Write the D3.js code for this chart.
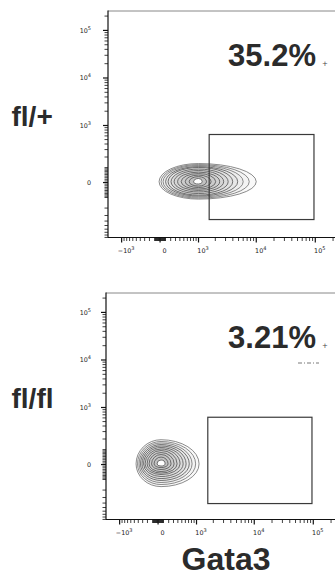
<!DOCTYPE html>
<html>
<head>
<meta charset="utf-8">
<script src="https://cdn.jsdelivr.net/npm/d3@7"></script>
<style>
  body { margin: 0; background: #fff; }
  svg { display: block; }
</style>
</head>
<body>
<div id="chart"></div>
<script>
// Panel text
const rowLabels = ["fl/+", "fl/fl"];
const percentLabels = ["35.2%", "3.21%"];
const xAxisTitle = "Gata3";

// Axis ticks (biexponential display)
const xMajorTicks = [-1000, 0, 1000, 10000, 100000];
const xTickBase = ["\u221210", "0", "10", "10", "10"];
const xTickExp = ["3", "", "3", "4", "5"];
const yMajorTicks = [0, 1000, 10000, 100000];
const yTickBase = ["0", "10", "10", "10"];
const yTickExp = ["", "3", "4", "5"];

// Gate rectangles [low, high]
const gateX = [[1560, 95000], [1600, 95000]];
const gateY = [[-370, 643], [-410, 620]];

// Population contours: center and extents of each contour ring
const popCenterX = [1000, 55];
const popCenterY = [5, 4];
const ringLeft1 = [-18, 18, 55, 102, 149, 207, 270, 347, 432, 538, 655, 806];
const ringRight1 = [9990, 7600, 6000, 4840, 3980, 3330, 2790, 2380, 2030, 1690, 1400, 1170];
const ringTop1 = [134, 125, 117, 108, 101, 89, 78, 67, 57, 47, 37, 25];
const ringBottom1 = [-113, -105, -97, -89, -82, -71, -60, -50, -41, -31, -22, -9];
const ringLeft2 = [-455, -418, -382, -348, -314, -281, -249, -208, -169, -121, -74, -18];
const ringRight2 = [1116, 963, 823, 724, 623, 537, 455, 382, 314, 249, 188, 130];
const ringTop2 = [192, 173, 158, 143, 130, 117, 105, 93, 78, 64, 47, 28];
const ringBottom2 = [-163, -143, -125, -108, -93, -78, -64, -54, -44, -31, -19, -9];

// Layout
const W = 335, H = 581;
const panelLeft = [108, 106];
const panelTop = [10.5, 292.5];
const plotW = 232, plotH = 227;
const xMin = -1760, xMax = 262144, xWidth = 470;
const yMin = -903, yMax = 262144, yWidth = 127;

const svg = d3.select("#chart").append("svg")
    .attr("width", W)
    .attr("height", H);

// biexponential-like transform, then linear scale
const tx = v => Math.asinh(v / xWidth);
const ty = v => Math.asinh(v / yWidth);
const xLin = d3.scaleLinear().domain([tx(xMin), tx(xMax)]).range([0, plotW]);
const yLin = d3.scaleLinear().domain([ty(yMin), ty(yMax)]).range([plotH, 0]);
const x = v => xLin(tx(v));
const y = v => yLin(ty(v));

// minor ticks: n * 10^k in both directions
function minorTicks(lo, hi) {
    const out = [];
    [1, 2, 3, 4, 5].forEach(k => {
        d3.range(1, 10).forEach(n => {
            const v = n * Math.pow(10, k);
            if (n === 1 && k >= 3) return;
            if (v <= hi) out.push(v);
            if (-v >= lo && !(n === 1 && k === 3)) out.push(-v);
        });
    });
    return out;
}

const rings = [
    { left: ringLeft1, right: ringRight1, top: ringTop1, bottom: ringBottom1 },
    { left: ringLeft2, right: ringRight2, top: ringTop2, bottom: ringBottom2 }
];

rowLabels.forEach((label, p) => {
    const g = svg.append("g")
        .attr("transform", `translate(${panelLeft[p]},${panelTop[p]})`);

    // frame top
    g.append("line")
        .attr("x1", 0).attr("x2", plotW)
        .attr("y1", 0.5).attr("y2", 0.5)
        .attr("stroke", "#888").attr("stroke-width", 1);

    // contours
    const cx = x(popCenterX[p]), cy = y(popCenterY[p]);
    const r = rings[p];
    const ringData = r.left.map((d, i) => ({
        xl: x(r.left[i]), xr: x(r.right[i]), yt: y(r.top[i]), yb: y(r.bottom[i])
    }));
    g.selectAll(".ring")
        .data(ringData)
        .enter().append("path")
        .attr("class", "ring")
        .attr("d", d => {
            const rl = cx - d.xl, rr = d.xr - cx, rt = cy - d.yt, rb = d.yb - cy;
            return `M${d.xl},${cy}A${rl},${rt} 0 0 1 ${cx},${d.yt}` +
                `A${rr},${rt} 0 0 1 ${d.xr},${cy}` +
                `A${rr},${rb} 0 0 1 ${cx},${d.yb}` +
                `A${rl},${rb} 0 0 1 ${d.xl},${cy}Z`;
        })
        .attr("fill", (d, i) => i < ringData.length - 1 ? "#000" : "#fff")
        .attr("fill-opacity", (d, i) => i < ringData.length - 1 ? 0.025 : 1)
        .attr("stroke", (d, i) => i < 3 ? "#666" : "#4a4a4a")
        .attr("stroke-width", 0.75);

    // gate
    g.append("rect")
        .attr("x", x(gateX[p][0]))
        .attr("y", y(gateY[p][1]))
        .attr("width", x(gateX[p][1]) - x(gateX[p][0]))
        .attr("height", y(gateY[p][0]) - y(gateY[p][1]))
        .attr("fill", "none")
        .attr("stroke", "#3a3a3a")
        .attr("stroke-width", 1.2);

    // x axis
    const xa = g.append("g").attr("transform", `translate(0,${plotH})`);
    xa.append("line")
        .attr("x1", 0).attr("x2", plotW)
        .attr("stroke", "#111").attr("stroke-width", 1.2);
    xa.selectAll(".minor")
        .data(minorTicks(xMin, xMax))
        .enter().append("line")
        .attr("x1", d => x(d)).attr("x2", d => x(d))
        .attr("y1", 0).attr("y2", 3.5)
        .attr("stroke", "#111").attr("stroke-width", 0.8);
    xa.selectAll(".major")
        .data(xMajorTicks)
        .enter().append("line")
        .attr("x1", d => x(d)).attr("x2", d => x(d))
        .attr("y1", 0).attr("y2", 5)
        .attr("stroke", "#111").attr("stroke-width", 1.2);
    const xl = xa.selectAll(".xlab")
        .data(xMajorTicks)
        .enter().append("text")
        .attr("x", d => x(d) + 4.5)
        .attr("y", 15.5)
        .attr("text-anchor", "middle")
        .style("font-family", "'DejaVu Sans', sans-serif")
        .style("font-size", "6.4px")
        .style("fill", "#222");
    xl.append("tspan").text((d, i) => xTickBase[i]);
    xl.append("tspan").attr("dy", -3).style("font-size", "5px").text((d, i) => xTickExp[i]);

    // y axis
    const ya = g.append("g");
    ya.append("line")
        .attr("y1", 0).attr("y2", plotH)
        .attr("stroke", "#111").attr("stroke-width", 1.2);
    ya.selectAll(".minor")
        .data(minorTicks(yMin, yMax))
        .enter().append("line")
        .attr("y1", d => y(d)).attr("y2", d => y(d))
        .attr("x1", 0).attr("x2", -3.5)
        .attr("stroke", "#111").attr("stroke-width", 0.8);
    ya.selectAll(".major")
        .data(yMajorTicks)
        .enter().append("line")
        .attr("y1", d => y(d)).attr("y2", d => y(d))
        .attr("x1", 0).attr("x2", -5)
        .attr("stroke", "#111").attr("stroke-width", 1.2);
    const yl = ya.selectAll(".ylab")
        .data(yMajorTicks)
        .enter().append("text")
        .attr("x", 91 - panelLeft[p])
        .attr("y", d => y(d) + 2.5)
        .attr("text-anchor", "end")
        .style("font-family", "'DejaVu Sans', sans-serif")
        .style("font-size", "6.4px")
        .style("fill", "#222");
    yl.append("tspan").text((d, i) => yTickBase[i]);
    yl.append("tspan").attr("dy", -3).style("font-size", "5px").text((d, i) => yTickExp[i]);

    // percentage
    g.append("text")
        .attr("x", 316 - panelLeft[p])
        .attr("y", 55)
        .attr("text-anchor", "end")
        .style("font-family", "'Liberation Sans', Arial, sans-serif")
        .style("font-weight", "bold")
        .style("font-size", "31px")
        .style("fill", "#2b2b2b")
        .text(percentLabels[p]);
    g.append("text")
        .attr("x", 325 - panelLeft[p])
        .attr("y", 55)
        .attr("text-anchor", "middle")
        .style("font-family", "'DejaVu Sans', sans-serif")
        .style("font-size", "7px")
        .style("fill", "#444")
        .text("+");

    // row label
    svg.append("text")
        .attr("x", 11.5)
        .attr("y", panelTop[p] + 115.5)
        .style("font-family", "'Liberation Sans', Arial, sans-serif")
        .style("font-weight", "bold")
        .style("font-size", "28px")
        .style("fill", "#2b2b2b")
        .text(label);
});

// small dashed mark in lower panel
svg.append("line")
    .attr("x1", 298).attr("x2", 319)
    .attr("y1", 363).attr("y2", 363)
    .attr("stroke", "#555")
    .attr("stroke-width", 0.8)
    .attr("stroke-dasharray", "4,2,1,2");

// axis title
svg.append("text")
    .attr("x", 226)
    .attr("y", 570)
    .attr("text-anchor", "middle")
    .style("font-family", "'Liberation Sans', Arial, sans-serif")
    .style("font-weight", "bold")
    .style("font-size", "32px")
    .style("fill", "#2b2b2b")
    .text(xAxisTitle);
</script>
</body>
</html>
